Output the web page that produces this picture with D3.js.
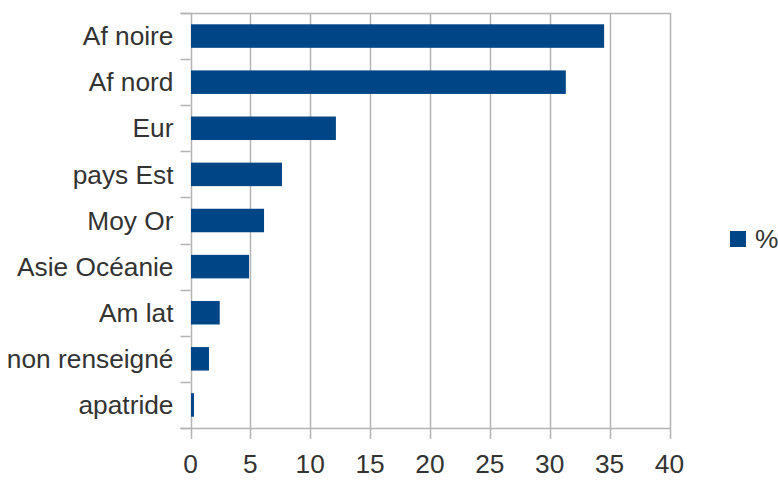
<!DOCTYPE html>
<html>
<head>
<meta charset="utf-8">
<script src="https://cdn.jsdelivr.net/npm/d3@7"></script>
<style>
  body { margin: 0; background: #fff; }
  svg { font-family: "Liberation Sans", Arial, sans-serif; }
</style>
</head>
<body>
<div id="chart"></div>
<script>
var categories = ['Af noire', 'Af nord', 'Eur', 'pays Est', 'Moy Or', 'Asie Océanie', 'Am lat', 'non renseigné', 'apatride'];
var values = [34.5, 31.3, 12.1, 7.6, 6.1, 4.85, 2.4, 1.5, 0.25];
var ticks = [0, 5, 10, 15, 20, 25, 30, 35, 40];
var seriesName = '%';

var width = 778, height = 483;
var margin = {top: 13, left: 190.5, right: 108.5, bottom: 55};
var gridColor = '#b3b3b3';
var barColor = '#004586';
var textColor = '#333333';
var fontSize = '26.3px';

var svg = d3.select('#chart').append('svg')
  .attr('width', width)
  .attr('height', height);

var x = d3.scaleLinear()
  .domain([0, 40])
  .range([margin.left, width - margin.right]);

var y = d3.scaleBand()
  .domain(categories)
  .range([margin.top, height - margin.bottom])
  .paddingInner(0.49)
  .paddingOuter(0.245);

var band = d3.scaleBand()
  .domain(categories)
  .range([margin.top, height - margin.bottom]);

// vertical grid lines (extend below the axis as ticks)
svg.append('g')
  .selectAll('line')
  .data(ticks)
  .enter()
  .append('line')
  .attr('x1', function(d) { return Math.round(x(d)) + 0.5; })
  .attr('x2', function(d) { return Math.round(x(d)) + 0.5; })
  .attr('y1', margin.top)
  .attr('y2', height - margin.bottom + 11)
  .attr('stroke', gridColor)
  .attr('stroke-width', 1.5);

// top border
svg.append('line')
  .attr('x1', margin.left - 10)
  .attr('x2', x(40) + 0.5)
  .attr('y1', margin.top + 0.5)
  .attr('y2', margin.top + 0.5)
  .attr('stroke', gridColor)
  .attr('stroke-width', 1.5);

// left ticks at band edges
var edges = categories.map(function(c) { return band(c); });
edges.push(height - margin.bottom);
svg.append('g')
  .selectAll('line')
  .data(edges)
  .enter()
  .append('line')
  .attr('x1', margin.left - 10)
  .attr('x2', margin.left)
  .attr('y1', function(d) { return Math.round(d) + 0.5; })
  .attr('y2', function(d) { return Math.round(d) + 0.5; })
  .attr('stroke', gridColor)
  .attr('stroke-width', 1.5);

// bottom axis line
svg.append('line')
  .attr('x1', margin.left - 10)
  .attr('x2', x(40) + 0.5)
  .attr('y1', Math.round(height - margin.bottom) + 0.5)
  .attr('y2', Math.round(height - margin.bottom) + 0.5)
  .attr('stroke', gridColor)
  .attr('stroke-width', 1.5);

// bars
svg.append('g')
  .selectAll('rect')
  .data(values)
  .enter()
  .append('rect')
  .attr('x', x(0) + 0.5)
  .attr('y', function(d, i) { return y(categories[i]); })
  .attr('width', function(d) { return x(d) - x(0); })
  .attr('height', y.bandwidth())
  .attr('fill', barColor);

// category labels
svg.append('g')
  .selectAll('text')
  .data(categories)
  .enter()
  .append('text')
  .attr('x', margin.left - 17)
  .attr('y', function(d) { return band(d) + band.bandwidth() / 2; })
  .attr('dy', '0.35em')
  .attr('text-anchor', 'end')
  .attr('font-size', fontSize)
  .attr('fill', textColor)
  .text(function(d) { return d; });

// x tick labels
svg.append('g')
  .selectAll('text')
  .data(ticks)
  .enter()
  .append('text')
  .attr('x', function(d) { return x(d); })
  .attr('y', 473)
  .attr('text-anchor', 'middle')
  .attr('font-size', fontSize)
  .attr('fill', textColor)
  .text(function(d) { return d; });

// legend
var legend = svg.append('g').attr('transform', 'translate(730,231)');
legend.append('rect')
  .attr('width', 16)
  .attr('height', 16)
  .attr('fill', barColor);
legend.append('text')
  .attr('x', 25)
  .attr('y', 8)
  .attr('dy', '0.35em')
  .attr('font-size', fontSize)
  .attr('fill', textColor)
  .text(seriesName);
</script>
</body>
</html>
